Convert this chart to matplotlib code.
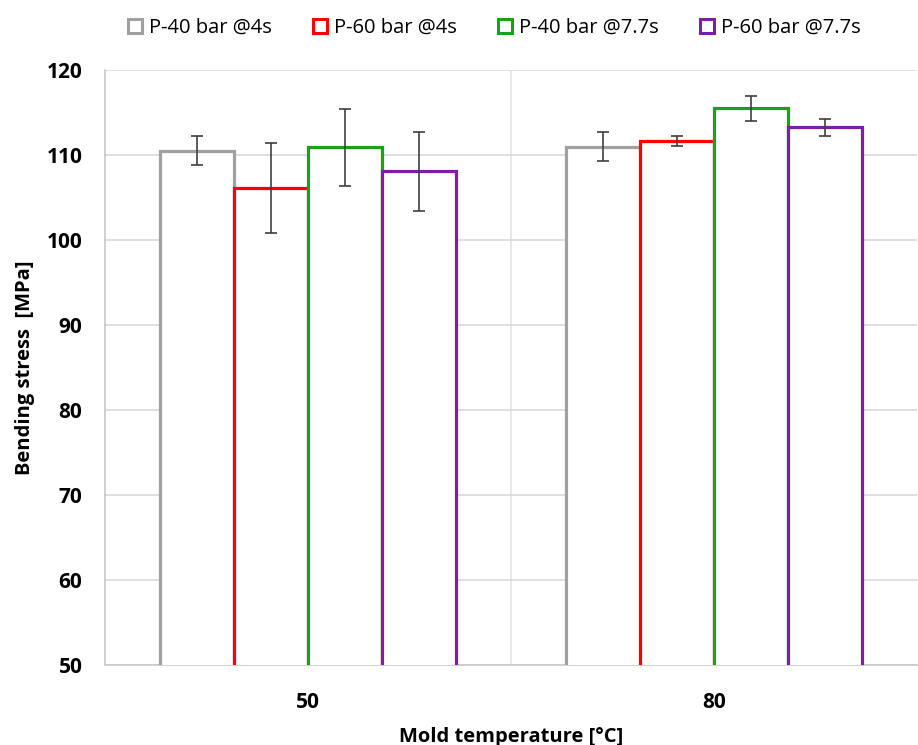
import matplotlib
matplotlib.use("Agg")
import matplotlib.pyplot as plt
import numpy as np

categories = ["50", "80"]
series = ["P-40 bar @4s", "P-60 bar @4s", "P-40 bar @7.7s", "P-60 bar @7.7s"]
values = {
    "P-40 bar @4s": [110.5, 111.0],
    "P-60 bar @4s": [106.1, 111.7],
    "P-40 bar @7.7s": [110.9, 115.5],
    "P-60 bar @7.7s": [108.1, 113.3],
}
errors = {
    "P-40 bar @4s": [1.7, 1.75],
    "P-60 bar @4s": [5.3, 0.6],
    "P-40 bar @7.7s": [4.5, 1.45],
    "P-60 bar @7.7s": [4.65, 1.0],
}
colors = ["#a0a0a0", "#ff0000", "#1aa01a", "#7a1fa8"]

plt.rcParams['font.family'] = ['Open Sans', 'DejaVu Sans']
fig = plt.figure(figsize=(9.18, 7.45), dpi=100)
ax = fig.add_axes([0.114, 0.107, 0.885, 0.799])

x = np.arange(len(categories))
w = 0.182
for i, s in enumerate(series):
    pos = x + (i - 1.5) * w
    ax.bar(pos, values[s], width=w, bottom=0, facecolor="white", edgecolor=colors[i],
           linewidth=2.3, label=s, zorder=3)
    ax.errorbar(pos, values[s], yerr=errors[s], fmt="none", ecolor="#404040",
                elinewidth=1.2, capsize=4, capthick=1.2, zorder=4)

ax.set_ylim(50, 120)
ax.set_xlim(-0.5, 1.5)
ax.set_yticks(np.arange(50, 121, 10))
ax.set_xticks(x)
ax.set_xticklabels(categories)
ax.yaxis.grid(True, color="#d9d9d9", linewidth=1.2, zorder=0)
ax.axvline(0.5, color="#e3e3e3", linewidth=1.2, zorder=0)
for sp in ["top", "right"]:
    ax.spines[sp].set_visible(False)
for sp in ["left", "bottom"]:
    ax.spines[sp].set_color("#c8c8c8")
    ax.spines[sp].set_linewidth(1.2)
ax.tick_params(axis="both", length=0, labelsize=15)
ax.tick_params(axis="y", pad=16)
ax.tick_params(axis="x", pad=19)
for lab in ax.get_yticklabels() + ax.get_xticklabels():
    lab.set_fontweight("bold")
ax.set_ylabel("Bending stress  [MPa]", fontsize=14.5, fontweight="bold", labelpad=8)
ax.set_xlabel("Mold temperature [°C]", fontsize=14.5, fontweight="bold", labelpad=10)

handles = [plt.Line2D([], [], marker="s", linestyle="none", markersize=10,
                      markerfacecolor="white", markeredgecolor=c, markeredgewidth=2.2)
           for c in colors]
fig.legend(handles, series, loc="upper center", bbox_to_anchor=(0.538, 1.0), ncol=4,
           frameon=False, fontsize=14.5, handlelength=0.8, handletextpad=0.3,
           columnspacing=2.0)

fig.savefig("out.png", dpi=100)
